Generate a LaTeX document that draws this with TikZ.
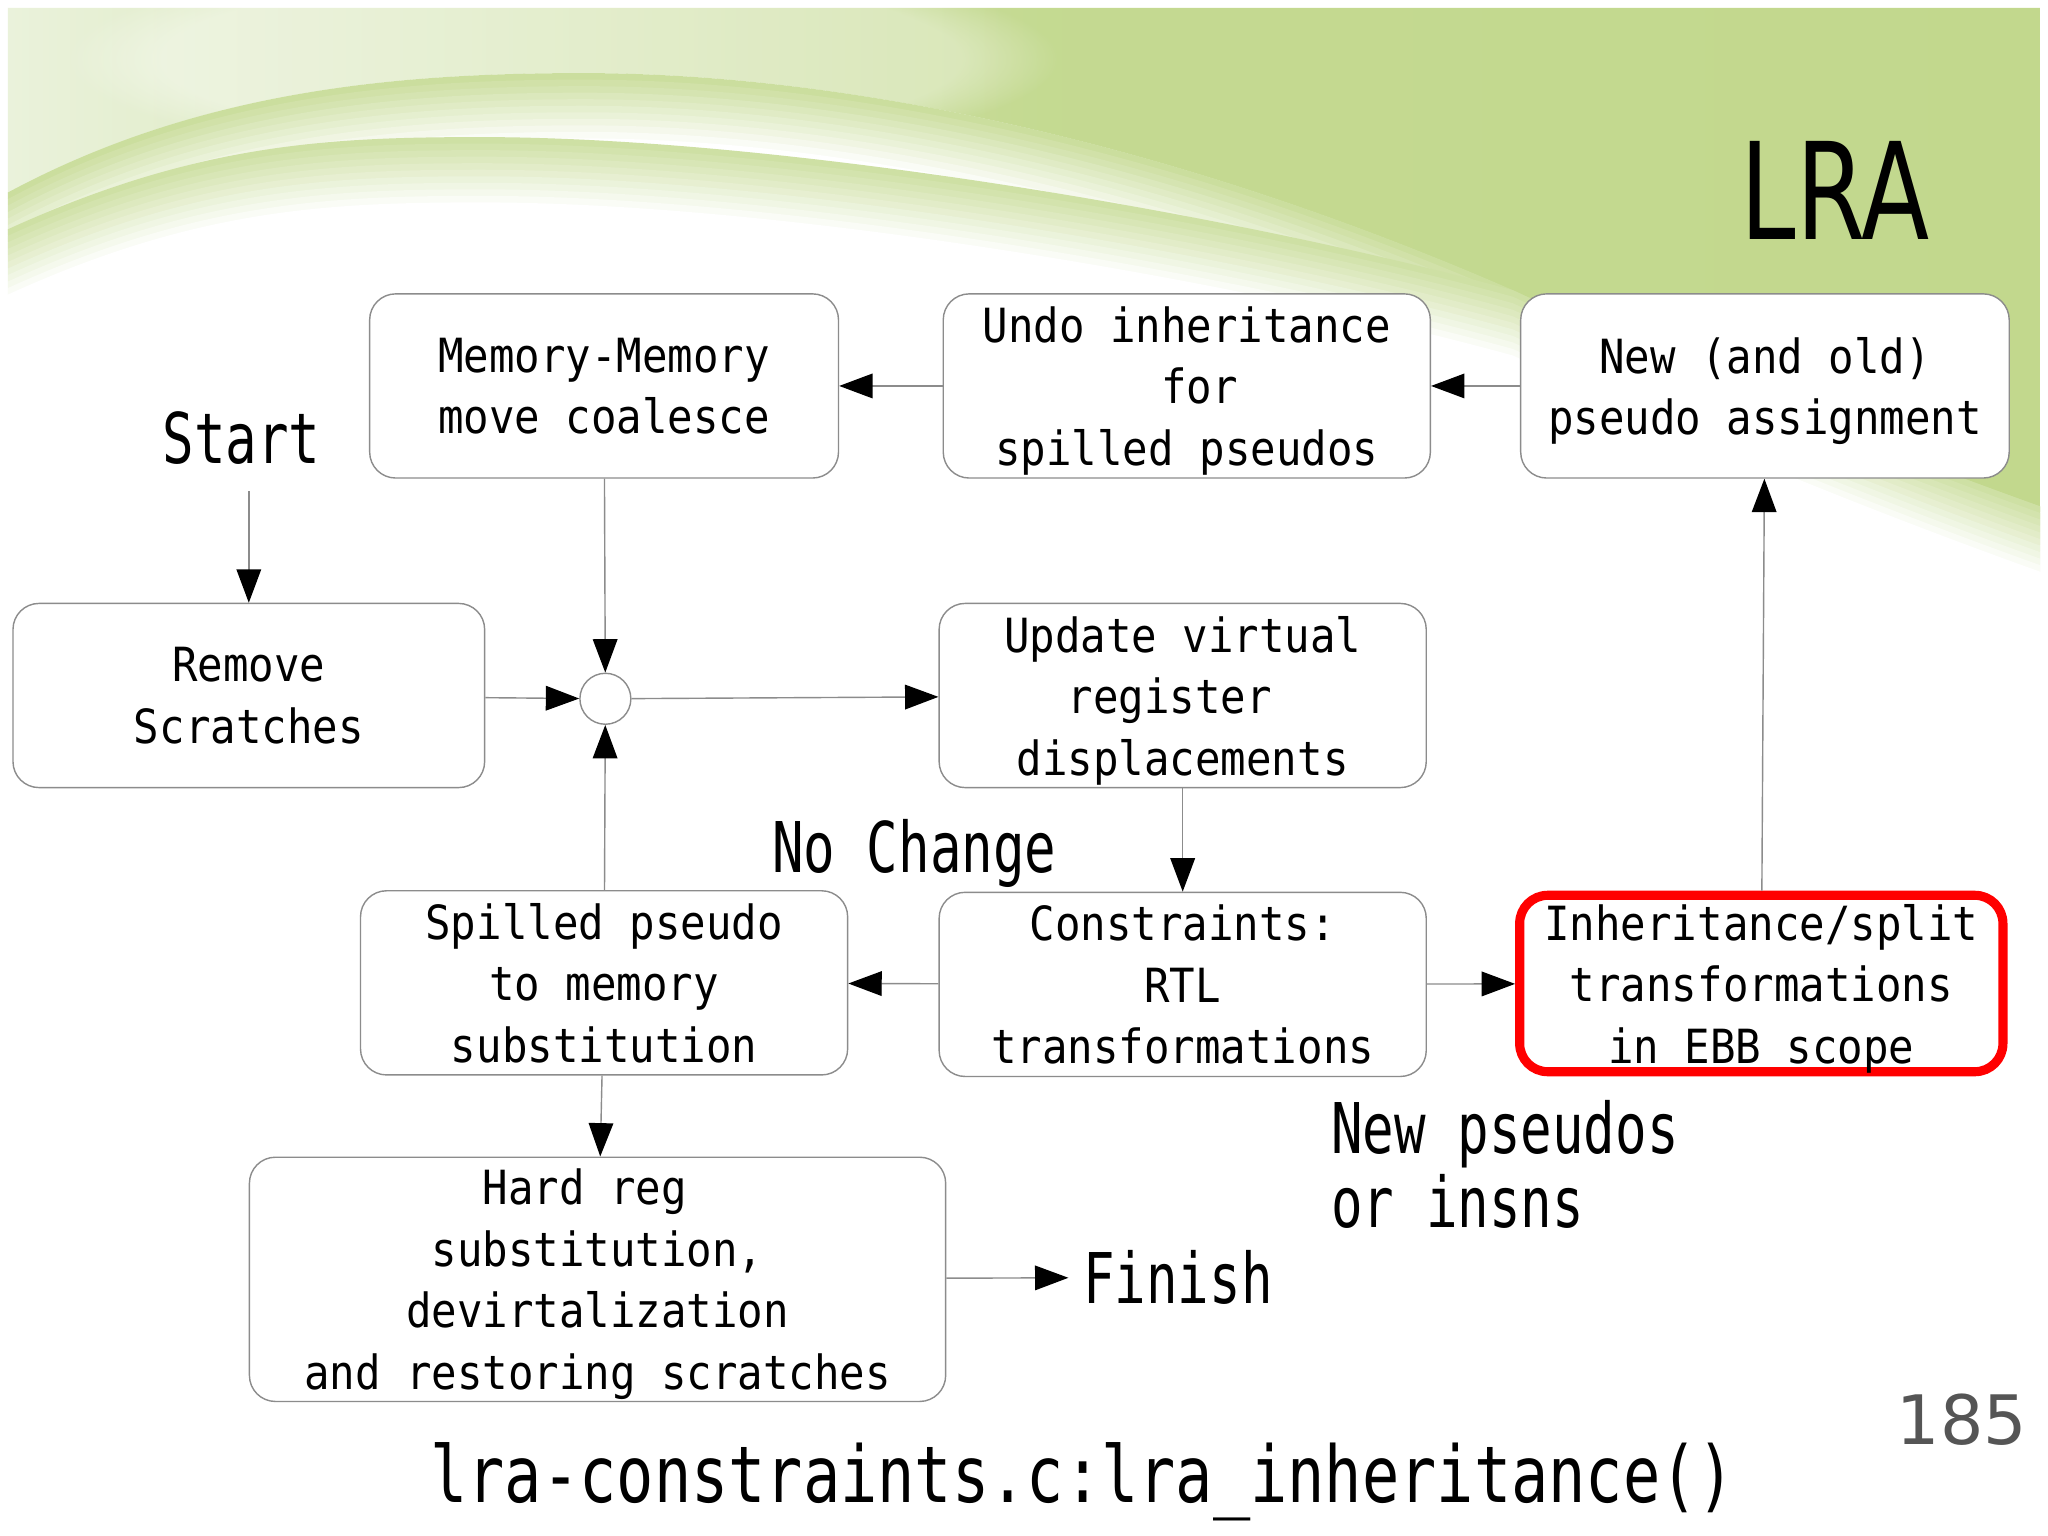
\documentclass[tikz,border=0pt]{standalone}
\usepackage{fontspec}
\usepackage{tikz}
\usetikzlibrary{shapes,arrows.meta,positioning,fadings}
\setmonofont{DejaVu Sans Mono}
\newfontfamily\boxfont[FakeStretch=0.90]{DejaVu Sans Mono}
\newfontfamily\labelfont[FakeStretch=0.75]{DejaVu Sans Mono}
\newfontfamily\codefont[FakeStretch=0.79]{DejaVu Sans Mono}
\newfontfamily\titlefont[FakeStretch=0.74]{DejaVu Sans}
\newfontfamily\pagefont{DejaVu Sans}
\definecolor{slidegreen}{RGB}{194,216,141}
\definecolor{slidepale}{RGB}{234,242,219}
\definecolor{linegray}{RGB}{140,140,140}
\definecolor{pagegray}{RGB}{85,85,85}

\begin{document}
\begin{tikzpicture}
                %% setup
                [
                    x=0.371628pt, y=-0.371628pt,
                    >={Triangle[length=9.5pt,width=7pt,color=black]},
                    roundbox/.style={rectangle, rounded corners=7.4pt, draw=linegray, fill=white, line width=0.4pt, minimum width=138.6pt, minimum height=52.4pt, inner sep=0pt, text depth=0pt, align=center, font=\boxfont\fontsize{13.4}{17.5}\selectfont},
                    redbox/.style={roundbox, draw=red, line width=2.6pt, rounded corners=8pt, minimum width=137.5pt, minimum height=50.2pt},
                    joincircle/.style={circle, draw=linegray, fill=white, line width=0.4pt, minimum size=14.5pt, inner sep=0pt},
                    labeltext/.style={inner sep=4pt, font=\labelfont\fontsize{19.9}{21.2}\selectfont},
                    flow/.style={->, draw=linegray, line width=0.4pt},
                ]
                    \useasboundingbox (0,0) rectangle (1568,1176);

                    %% Background
                    \fill[white] (0,0) rectangle (1568,1176);
                    \begin{scope}
                        \clip (6,6) rectangle (1562,1176);
                        \shade[left color=slidepale, right color=slidegreen, middle color=slidegreen!96!white]
                            (6,6) -- (1562,6) -- (1562,388)
                            .. controls (1400,330) and (1260,270) .. (1157,222)
                            .. controls (900,110) and (650,56) .. (446,56)
                            .. controls (300,56) and (150,70) .. (6,148) -- cycle;
                        \fill[white, opacity=0.35, path fading=circle with fuzzy edge 20 percent] (430,45) ellipse [x radius=380, y radius=80];
                        \foreach \k [evaluate=\k as \mix using int(85-8.5*\k)] in {0,...,10}
                            \draw[slidegreen!\mix!white, line width=3pt, shift={(0,5*\k+4)}]
                                (6,148) .. controls (150,70) and (300,56) .. (446,56)
                                .. controls (650,56) and (900,110) .. (1157,222)
                                .. controls (1260,270) and (1400,330) .. (1562,388);
                        \foreach \k [evaluate=\k as \mix using int(80-8*\k)] in {0,...,10}
                            \draw[slidegreen!\mix!white, line width=3pt, shift={(0,5*\k+4)}]
                                (6,176) .. controls (150,110) and (250,105) .. (368,105)
                                .. controls (600,105) and (950,165) .. (1157,222)
                                .. controls (1260,270) and (1400,330) .. (1562,388);
                    \end{scope}

                    %% Nodes
                    \node [roundbox, minimum width=133.4pt] (memorynode) at (462.5,295.5) {Memory-Memory\\move coalesce};
                    \node [roundbox] (undonode) [right=29.4pt of memorynode] {Undo inheritance\\\hphantom{f}for\\spilled pseudos};
                    \node [roundbox, minimum width=139pt] (newnode) [right=25.3pt of undonode] {New (and old)\\pseudo assignment};
                    \node [roundbox, minimum width=134.2pt] (removenode) at (190.5,532.5) {Remove\\Scratches};
                    \node [joincircle] (joinnode) at (463.5,535) {};
                    \node [roundbox] (updatenode) at (905.5,532.5) {Update virtual\\register\hphantom{r}\\displacements};
                    \node [roundbox] (constraintsnode) [below=29.4pt of updatenode] {Constraints:\\RTL\\transformations};
                    \node [roundbox] (spillednode) at (462.5,752.5) {Spilled pseudo\\to memory\\substitution};
                    \node [redbox] (inheritnode) at (1348.5,753) {Inheritance/split\\transformations\\in EBB scope};
                    \node [roundbox, minimum width=198.1pt, minimum height=69.5pt] (hardregnode) at (457.5,979.5) {Hard reg\hphantom{g}\\substitution,\\devirtalization\\and restoring scratches};
                    \node [labeltext, inner sep=7.4pt, anchor=base] (textStart) at (185,355) {Start};
                    \node [labeltext, anchor=base] (textNoChange) at (700,668) {No Change};
                    \node [labeltext, anchor=base west, align=left] (textNewPseudos) at (1008,940) {New pseudos\\or insns};
                    \node [labeltext, anchor=base west] (textFinish) at (818,998) {Finish};
                    \node [anchor=base, font=\titlefont\fontsize{38.3}{40}\selectfont] (textTitle) at (1405,183) {LRA};
                    \node [anchor=base, text=pagegray, font=\pagefont\fontsize{19.4}{20}\selectfont] (textPage) at (1502,1106) {185};
                    \node [anchor=base, font=\codefont\fontsize{22.3}{24}\selectfont] (textFunction) at (829,1150) {lra-constraints.c:lra\_inheritance()};

                    %% Lines
                    \draw[flow] (textStart.south -| removenode.north) -- (removenode.north);
                    \draw[flow] (removenode) -- (joinnode);
                    \draw[flow] (memorynode) -- (joinnode);
                    \draw[flow] (spillednode) -- (joinnode);
                    \draw[flow] (joinnode) -- (updatenode);
                    \draw[flow] (updatenode) -- (constraintsnode);
                    \draw[flow] (constraintsnode) -- (spillednode);
                    \draw[flow] (constraintsnode) -- (inheritnode);
                    \draw[flow] (inheritnode) -- (newnode);
                    \draw[flow] (newnode) -- (undonode);
                    \draw[flow] (undonode) -- (memorynode);
                    \draw[flow] (spillednode) -- (hardregnode);
                    \draw[flow] (hardregnode) -- (textFinish);
                \end{tikzpicture}
\end{document}
